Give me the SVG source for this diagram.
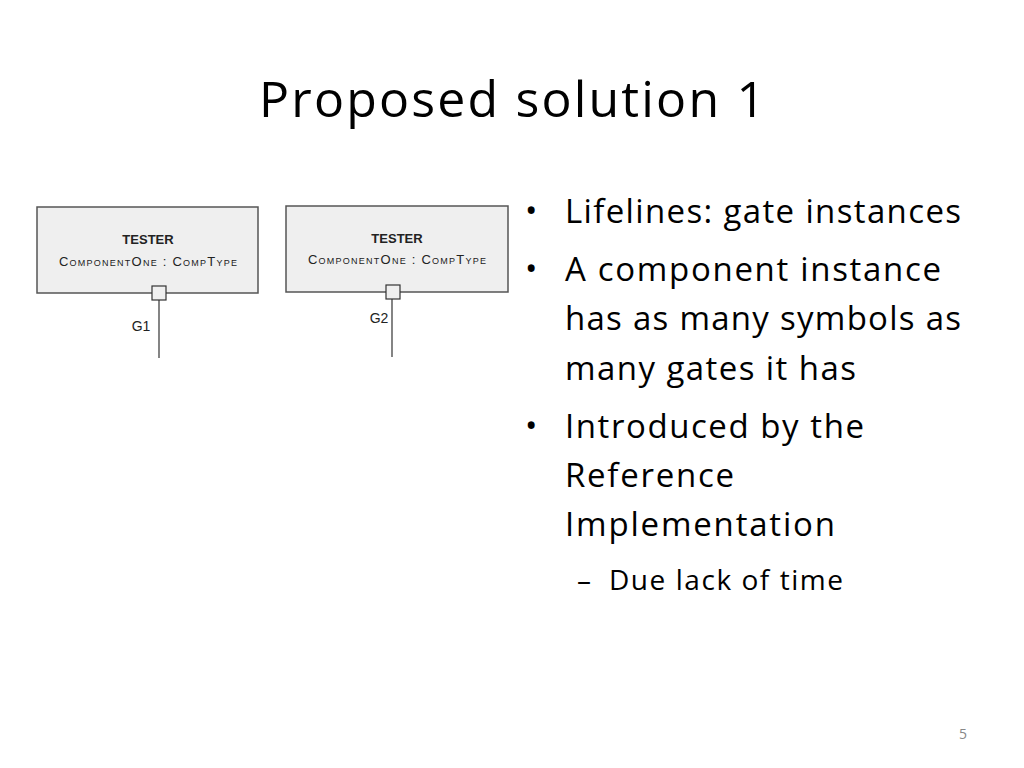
<svg xmlns="http://www.w3.org/2000/svg" width="1024" height="768" viewBox="0 0 1024 768">
<style>
.t{font-family:"Open Sans","Liberation Sans",sans-serif;fill:#000}
.box{fill:#efefef;stroke:#555;stroke-width:1.5}
.gate{fill:#efefef;stroke:#333;stroke-width:1.2}
.life{stroke:#333;stroke-width:1.2}
.h{font-family:"Liberation Sans",sans-serif;font-weight:bold;font-size:13px;fill:#222}
.s{font-family:"Liberation Sans",sans-serif;font-size:13px;font-variant:small-caps;fill:#222}
.g{font-family:"Liberation Sans",sans-serif;font-size:14px;fill:#222}
</style>
<rect width="1024" height="768" fill="#fff"/>
<text class="t" x="259" y="117" font-size="50" textLength="506">Proposed solution 1</text>
<g id="node1">
<rect class="box" x="37" y="207" width="221" height="86"/>
<text class="h" x="148" y="244" text-anchor="middle">TESTER</text>
<text class="s" x="148" y="266" text-anchor="middle" textLength="178">ComponentOne : CompType</text>
</g>
<g id="node2">
<rect class="box" x="286" y="206" width="222" height="86"/>
<text class="h" x="397" y="243" text-anchor="middle">TESTER</text>
<text class="s" x="397" y="264" text-anchor="middle" textLength="178">ComponentOne : CompType</text>
</g>
<g id="connectors">
<line class="life" x1="159" y1="300" x2="159" y2="358"/>
<line class="life" x1="392" y1="299" x2="392" y2="357"/>
</g>
<g id="gate1">
<rect class="gate" x="152" y="286" width="14" height="14"/>
<text class="g" x="141" y="331" text-anchor="middle">G1</text>
</g>
<g id="gate2">
<rect class="gate" x="386" y="285" width="14" height="14"/>
<text class="g" x="379" y="323" text-anchor="middle">G2</text>
</g>
<g class="t" font-size="33">
<text x="525" y="222">•</text><text x="565" y="223" textLength="396">Lifelines: gate instances</text>
<text x="525" y="280">•</text><text x="565" y="281" textLength="376">A component instance</text>
<text x="565" y="330" textLength="396">has as many symbols as</text>
<text x="565" y="380" textLength="291">many gates it has</text>
<text x="525" y="437">•</text><text x="565" y="438" textLength="299">Introduced by the</text>
<text x="565" y="487" textLength="169">Reference</text>
<text x="565" y="536" textLength="270">Implementation</text>
</g>
<g class="t" font-size="28">
<text x="577" y="590">–</text><text x="609" y="590" textLength="234">Due lack of time</text>
</g>
<text class="t" x="963" y="739" font-size="14" fill="#888" text-anchor="middle" style="fill:#888">5</text>
</svg>
